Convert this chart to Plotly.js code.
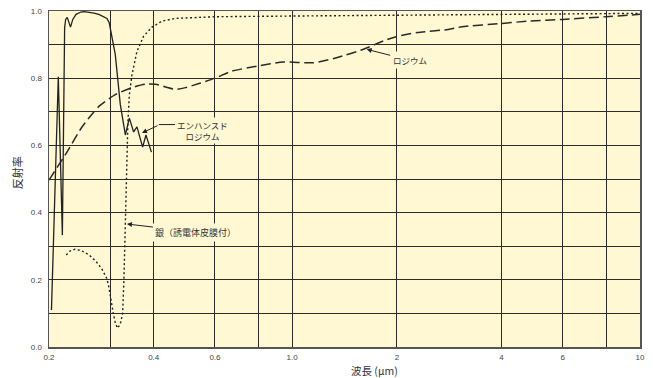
<!DOCTYPE html>
<html><head><meta charset="utf-8">
<script src="https://cdn.plot.ly/plotly-3.0.1.min.js"></script>
<style>html,body{margin:0;padding:0;background:#fff}#chart{width:653px;height:378px}</style>
</head><body><div id="chart"></div>
<script>
// エンハンスドロジウム (solid)
const enhancedWavelength = [0.2033, 0.2127, 0.2185, 0.2218, 0.2233, 0.2257, 0.2306, 0.2341, 0.2392, 0.2471, 0.2524, 0.2607, 0.2694, 0.2782, 0.2873, 0.2935, 0.2980, 0.3000, 0.3032, 0.3101, 0.3206, 0.3315, 0.3404, 0.3502, 0.3580, 0.3717, 0.3800, 0.3940];
const enhancedReflectance = [0.110, 0.804, 0.333, 0.950, 0.975, 0.981, 0.952, 0.975, 0.990, 0.997, 0.998, 0.997, 0.994, 0.990, 0.984, 0.978, 0.965, 0.950, 0.921, 0.871, 0.722, 0.631, 0.681, 0.640, 0.655, 0.595, 0.631, 0.580];
// 銀（誘電体皮膜付） (dotted)
const silverWavelength = [0.2243, 0.2291, 0.2374, 0.2476, 0.2607, 0.2729, 0.2836, 0.2929, 0.2967, 0.3032, 0.3067, 0.3106, 0.3149, 0.3206, 0.3256, 0.3284, 0.3299, 0.3315, 0.3327, 0.3350, 0.3372, 0.3404, 0.3463, 0.3580, 0.3742, 0.3955, 0.4227, 0.4621, 0.5394, 0.6027, 1.0, 2.0, 4.0, 10.0];
const silverReflectance = [0.274, 0.285, 0.291, 0.287, 0.274, 0.255, 0.233, 0.205, 0.183, 0.122, 0.095, 0.070, 0.056, 0.068, 0.100, 0.200, 0.280, 0.370, 0.460, 0.540, 0.670, 0.750, 0.810, 0.880, 0.925, 0.952, 0.970, 0.978, 0.982, 0.983, 0.985, 0.987, 0.990, 0.993];
// ロジウム (dashed)
const rhodiumWavelength = [0.2, 0.2243, 0.2497, 0.2782, 0.3101, 0.3463, 0.3785, 0.4045, 0.4324, 0.4621, 0.4939, 0.5394, 0.6027, 0.6701, 0.7948, 0.9437, 1.150, 1.342, 1.603, 1.831, 2.0, 2.291, 2.809, 3.075, 4.0, 4.80, 5.99, 7.98, 10.0];
const rhodiumReflectance = [0.497, 0.577, 0.657, 0.716, 0.751, 0.772, 0.782, 0.782, 0.774, 0.767, 0.772, 0.784, 0.801, 0.821, 0.836, 0.848, 0.846, 0.861, 0.886, 0.911, 0.924, 0.936, 0.945, 0.953, 0.963, 0.970, 0.975, 0.983, 0.990];

const xTickValues = [0.2, 0.3, 0.4, 0.6, 0.8, 1, 2, 4, 6, 8, 10];
const xTickLabels = ['0.2', '', '0.4', '0.6', '', '1.0', '2', '4', '6', '', '10'];
const yTickValues = [0, 0.1, 0.2, 0.3, 0.4, 0.5, 0.6, 0.7, 0.8, 0.9, 1.0];
const yTickLabels = ['0.0', '', '0.2', '', '0.4', '', '0.6', '', '0.8', '', '1.0'];

const labelEnhanced = 'エンハンスド<br>ロジウム';
const labelSilver = '銀（誘電体皮膜付）';
const labelRhodium = 'ロジウム';
const xTitle = '波長 (μm)';
const yTitle = '反射率';

const BG = '#fff8d3';
const INK = '#222';
const JP = '"Noto Sans CJK JP", "Liberation Sans", sans-serif';
const LAT = '"Liberation Sans", Arial, "Noto Sans CJK JP", sans-serif';
const L = Math.log10;

const traces = [
  {x: rhodiumWavelength, y: rhodiumReflectance, mode: 'lines', name: labelRhodium,
   line: {color: '#2a2a2a', width: 1.5, dash: '10px,4.5px', shape: 'spline', smoothing: 0.6}},
  {x: silverWavelength, y: silverReflectance, mode: 'lines', name: labelSilver,
   line: {color: INK, width: 1.4, dash: '2px,2.5px'}},
  {x: enhancedWavelength, y: enhancedReflectance, mode: 'lines', name: 'エンハンスドロジウム',
   line: {color: INK, width: 1.3}}
];

const annFont = {family: JP, size: 9, color: '#333'};
const kanaFont = {family: JP, size: 8.5, color: '#333'};
const layout = {
  width: 653, height: 378,
  margin: {l: 49, r: 13, t: 11, b: 31, pad: 0},
  paper_bgcolor: '#ffffff', plot_bgcolor: BG,
  showlegend: false,
  xaxis: {type: 'log', range: [L(0.2), L(10)], tickmode: 'array', tickvals: xTickValues, ticktext: xTickLabels,
    showgrid: true, gridcolor: '#2b2b2b', gridwidth: 1, zeroline: false,
    showline: true, mirror: true, linecolor: '#555', linewidth: 1.5,
    ticks: 'outside', ticklen: 2, tickcolor: 'rgba(0,0,0,0)',
    tickfont: {family: LAT, size: 8, color: '#444'}},
  yaxis: {range: [0, 1], tickmode: 'array', tickvals: yTickValues, ticktext: yTickLabels,
    showgrid: true, gridcolor: '#2b2b2b', gridwidth: 1, zeroline: false,
    showline: true, mirror: true, linecolor: '#555', linewidth: 1.5,
    ticks: 'outside', ticklen: 4, tickcolor: 'rgba(0,0,0,0)',
    tickfont: {family: LAT, size: 8, color: '#444'}},
  annotations: [
    // enhanced rhodium: bent arrow (head segment + horizontal tail) and label
    {x: L(0.3701), y: 0.637, xref: 'x', yref: 'y', text: '', showarrow: true,
     ax: 17, ay: -8, arrowhead: 2, arrowsize: 1, arrowwidth: 1, arrowcolor: INK},
    {x: L(0.4135), y: 0.662, xref: 'x', yref: 'y', text: '', showarrow: true,
     ax: 18, ay: 0, arrowhead: 0, arrowwidth: 1, arrowcolor: INK},
    {x: L(0.551), y: 0.644, xref: 'x', yref: 'y', text: labelEnhanced, showarrow: false,
     font: kanaFont, bgcolor: BG, align: 'center', xanchor: 'center', yanchor: 'middle'},
    // silver
    {x: L(0.3350), y: 0.366, xref: 'x', yref: 'y', text: labelSilver, showarrow: true,
     ax: 69, ay: 8, arrowhead: 2, arrowsize: 1, arrowwidth: 1, arrowcolor: INK,
     font: annFont, bgcolor: BG, borderpad: 2},
    // rhodium
    {x: L(1.638), y: 0.886, xref: 'x', yref: 'y', text: labelRhodium, showarrow: true,
     ax: 43, ay: 11, arrowhead: 2, arrowsize: 1, arrowwidth: 1, arrowcolor: INK,
     font: kanaFont, bgcolor: BG, borderpad: 2},
    // axis titles
    {x: 0.5516, y: -0.07, xref: 'paper', yref: 'paper', text: xTitle, showarrow: false,
     font: {family: JP, size: 10.5, color: '#333'}, xanchor: 'center', yanchor: 'middle'},
    {x: -0.054, y: 0.517, xref: 'paper', yref: 'paper', text: yTitle, showarrow: false, textangle: -90,
     font: {family: JP, size: 11, color: '#333'}, xanchor: 'center', yanchor: 'middle'}
  ]
};

Plotly.newPlot('chart', traces, layout, {displayModeBar: false, staticPlot: true});
</script>
</body></html>
